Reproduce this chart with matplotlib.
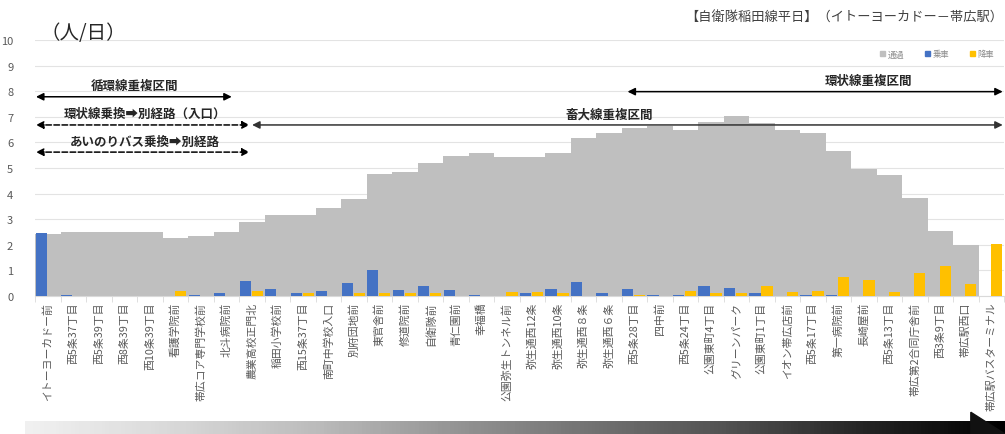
import numpy as np
import matplotlib.pyplot as plt
from matplotlib.patches import Patch, Polygon

plt.rcParams['font.family'] = ['Noto Sans CJK JP', 'DejaVu Sans']

stops = ['イトーヨーカドー前', '西5条37丁目', '西5条39丁目', '西8条39丁目', '西10条39丁目',
         '看護学院前', '帯広コア専門学校前', '北斗病院前', '農業高校正門北', '稲田小学校前',
         '西15条37丁目', '南町中学校入口', '別府団地前', '東官舎前', '修道院前',
         '自衛隊前', '青仁園前', '幸福橋', '公園弥生トンネル前', '弥生通西12条',
         '弥生通西10条', '弥生通西８条', '弥生通西６条', '西5条28丁目', '四中前',
         '西5条24丁目', '公園東町4丁目', 'グリーンパーク', '公園東町1丁目', 'イオン帯広店前',
         '西5条17丁目', '第一病院前', '長崎屋前', '西5条13丁目', '帯広第2合同庁舎前',
         '西3条9丁目', '帯広駅西口', '帯広駅バスターミナル']

passing = [2.42, 2.5, 2.5, 2.5, 2.5, 2.27, 2.33, 2.49, 2.88, 3.18,
           3.18, 3.43, 3.79, 4.77, 4.86, 5.18, 5.48, 5.57, 5.42, 5.42,
           5.57, 6.18, 6.36, 6.55, 6.62, 6.5, 6.78, 7.04, 6.75, 6.5,
           6.36, 5.65, 4.96, 4.73, 3.82, 2.55, 2.0, 0]
board = [2.45, 0.06, 0, 0, 0, 0, 0.06, 0.12, 0.6, 0.27,
         0.12, 0.18, 0.5, 1.03, 0.25, 0.4, 0.25, 0.05, 0, 0.12,
         0.27, 0.57, 0.12, 0.27, 0.05, 0.05, 0.4, 0.31, 0.12, 0,
         0.04, 0.04, 0, 0, 0, 0, 0, 0]
alight = [0, 0, 0, 0, 0, 0.2, 0, 0, 0.2, 0,
          0.12, 0, 0.12, 0.12, 0.12, 0.12, 0, 0, 0.15, 0.15,
          0.12, 0, 0, 0.06, 0, 0.18, 0.12, 0.12, 0.4, 0.16,
          0.18, 0.73, 0.64, 0.16, 0.89, 1.18, 0.47, 2.03]

c_gray = '#BFBFBF'
c_blue = '#4472C4'
c_yel = '#FFC000'
txt = '#595959'

fig = plt.figure(figsize=(10.05, 4.35), dpi=100)
ax = fig.add_axes([0.0353, 0.317, 0.9637, 0.589])

x = np.arange(len(stops))
ax.bar(x, passing, width=1.0, color=c_gray, zorder=2)
ax.bar(x - 0.27, board, width=0.44, color=c_blue, zorder=3)
ax.bar(x + 0.2, alight, width=0.44, color=c_yel, zorder=3)

ax.set_xlim(-0.5, len(stops) - 0.5)
ax.set_ylim(0, 10)
ax.set_yticks(range(0, 11))
ax.grid(axis='y', color='#E3E3E3', lw=0.8, zorder=0)
ax.set_axisbelow(True)
for s in ['top', 'right', 'left']:
    ax.spines[s].set_visible(False)
ax.spines['bottom'].set_color('#D9D9D9')
ax.tick_params(axis='y', length=0, labelsize=8, labelcolor=txt, pad=16)
ax.set_xticks(x)
ax.set_xticklabels(stops, rotation=90, fontsize=7.8, color=txt, va='top')
ax.set_xticks(np.arange(-0.5, len(stops)), minor=True)
ax.tick_params(axis='x', which='major', length=0, pad=4)
ax.tick_params(axis='x', which='minor', length=4, color='#D9D9D9')

# section arrows
def span(x0, x1, y, ls='-', color='black'):
    ax.annotate('', xy=(x1, y), xytext=(x0, y),
                arrowprops=dict(arrowstyle='<|-|>', color=color, lw=1.1, ls=ls,
                                mutation_scale=11, shrinkA=0, shrinkB=0),
                annotation_clip=False, zorder=5)

span(-0.48, 7.2, 7.78)
ax.text(3.4, 8.22, '循環線重複区間', ha='center', va='center', fontsize=9, fontweight='bold', color='#262626', zorder=5)
span(-0.48, 7.9, 6.68, ls='--')
ax.text(3.8, 7.13, '環状線乗換➡別経路（入口）', ha='center', va='center', fontsize=9, fontweight='bold', color='#262626', zorder=5)
span(-0.48, 7.9, 5.62, ls='--')
ax.text(3.8, 6.05, 'あいのりバス乗換➡別経路', ha='center', va='center', fontsize=9, fontweight='bold', color='#262626', zorder=5)
span(8.0, 37.45, 6.68, color='#333333')
ax.text(22.0, 7.1, '畜大線重複区間', ha='center', va='center', fontsize=9, fontweight='bold', color='#262626', zorder=5)
span(22.73, 37.45, 7.98)
ax.text(32.2, 8.42, '環状線重複区間', ha='center', va='center', fontsize=9, fontweight='bold', color='#262626', zorder=5)

handles = [Patch(color=c_gray, label='通過'), Patch(color=c_blue, label='乗車'),
           Patch(color=c_yel, label='降車')]
ax.legend(handles=handles, loc='center right', bbox_to_anchor=(0.998, 0.945), ncol=3,
          frameon=False, fontsize=6, labelcolor='#8C8C8C', handlelength=0.6, handleheight=0.6,
          handletextpad=0.3, columnspacing=2.5)

fig.text(0.04, 0.924, '（人/日）', fontsize=14, color='#262626', va='center', ha='left')
fig.text(0.998, 0.958, '【自衛隊稲田線平日】（イトーヨーカドー－帯広駅）', fontsize=9.5,
         color='#404040', ha='right', va='center')

# gradient arrow along the bottom
gax = fig.add_axes([0.025, 0.0, 0.975, 0.03])
grad = np.linspace(0.12, 1.0, 256).reshape(1, -1)
gax.imshow(grad, aspect='auto', cmap='Greys', vmin=0, vmax=1, extent=(0, 1, 0, 1))
gax.set_xlim(0, 1)
gax.set_ylim(0, 1)
gax.axis('off')
fig.patches.append(Polygon([[0.966, 0.0], [0.966, 0.05], [1.0, 0.0]], closed=True,
                           transform=fig.transFigure, color='#111111'))

fig.savefig('out.png', dpi=100)
